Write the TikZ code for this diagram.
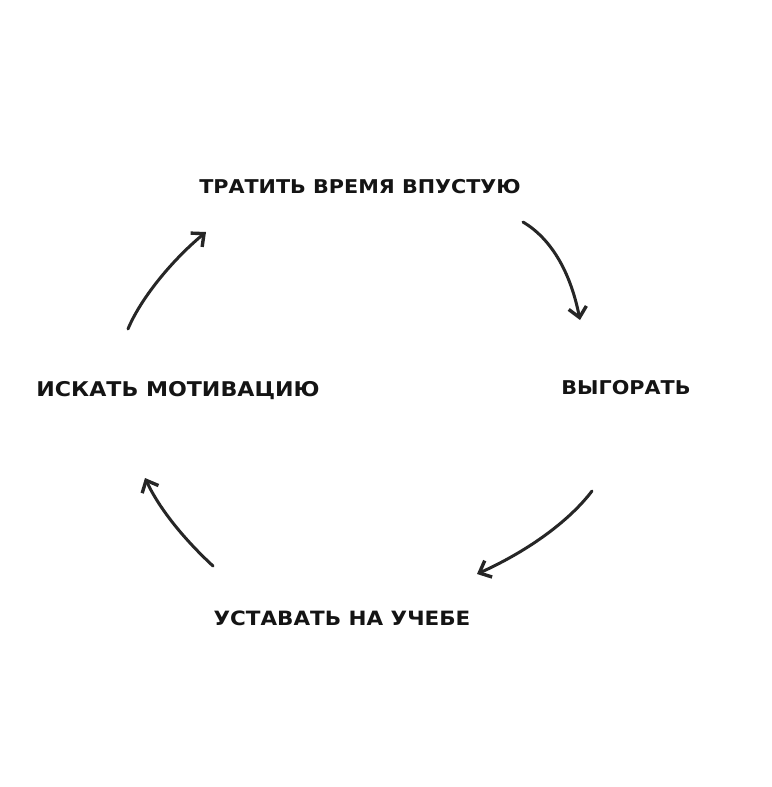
\documentclass[tikz,border=0pt]{standalone}
\usepackage{fontspec}
\setmainfont{DejaVu Sans}[FakeStretch=1.09]
\usetikzlibrary{arrows.meta}
\begin{document}
\begin{tikzpicture}[x=1pt,y=-1pt,
  label/.style={font=\fontsize{19}{22}\selectfont\bfseries, text=black!92, inner sep=0pt, anchor=center},
  sketch/.style={line width=3pt, draw=black!85, line cap=round, -{Straight Barb[length=10pt,width=18pt,line width=3.4pt]}}]
\useasboundingbox (0,0) rectangle (771,787);
\fill[white] (0,0) rectangle (771,787);
\node[label] (top) at (360,187) {ТРАТИТЬ ВРЕМЯ ВПУСТУЮ};
\node[label] (right) at (626,388) {ВЫГОРАТЬ};
\node[label, font=\fontsize{20.3}{22}\selectfont\bfseries] (left) at (178,391) {ИСКАТЬ МОТИВАЦИЮ};
\node[label, font=\fontsize{19.7}{22}\selectfont\bfseries] (bottom) at (342,618) {УСТАВАТЬ НА УЧЕБЕ};
\coordinate (a1s) at (128,329);
\coordinate (a1e) at (206,232);
\coordinate (a2s) at (523,222);
\coordinate (a2e) at (580,320);
\coordinate (a3s) at (592,491);
\coordinate (a3e) at (477,574);
\coordinate (a4s) at (213,566);
\coordinate (a4e) at (145,478);
\draw[sketch] (a1s) .. controls (140,300) and (170,262) .. (a1e);
\draw[sketch] (a2s) .. controls (550,238) and (570,270) .. (a2e);
\draw[sketch] (a3s) .. controls (570,520) and (530,550) .. (a3e);
\draw[sketch] (a4s) .. controls (185,540) and (160,510) .. (a4e);
\end{tikzpicture}
\end{document}
